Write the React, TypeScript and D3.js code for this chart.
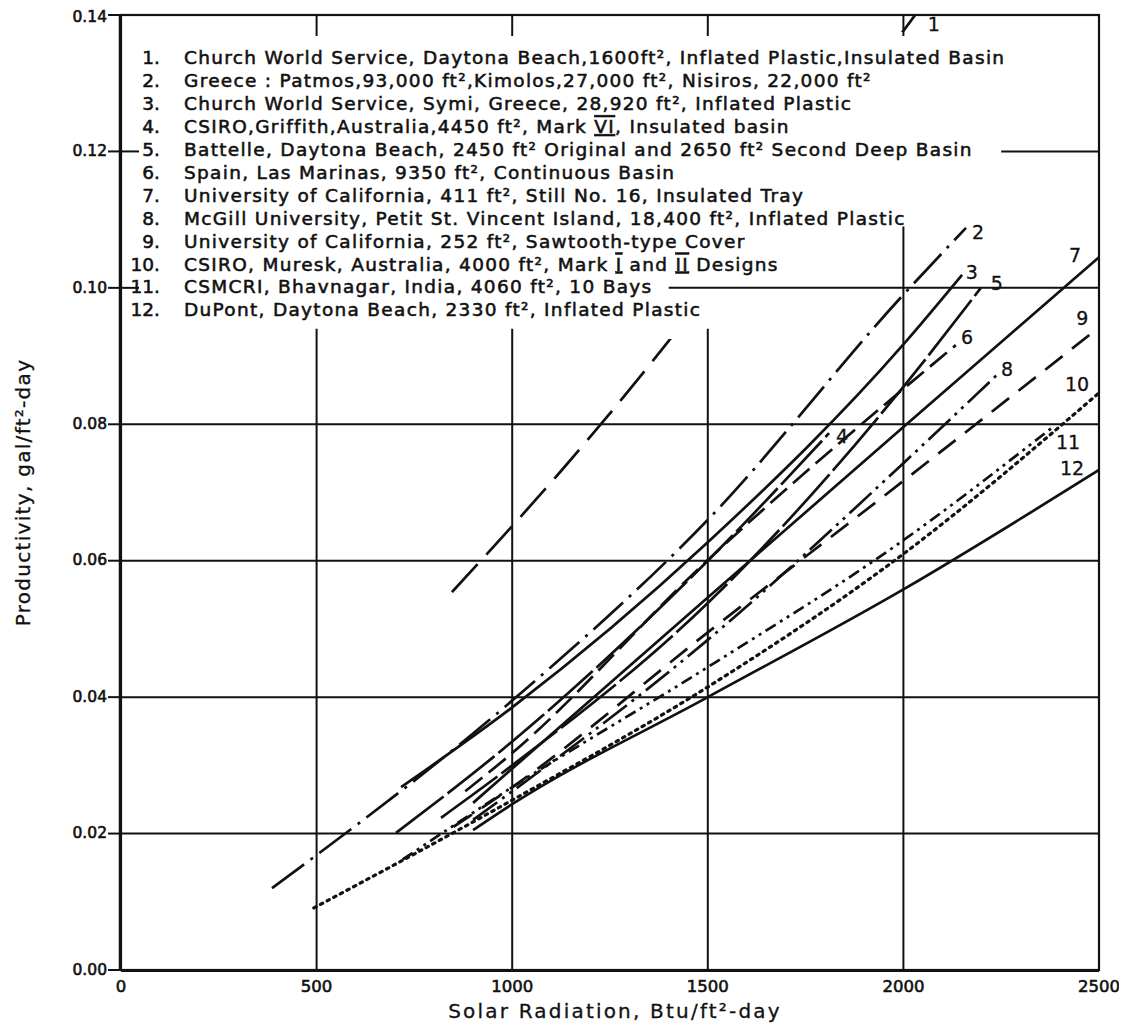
import React, { useEffect, useRef } from "react";
import * as d3 from "d3";

// axis ticks
const xTicks = [0, 500, 1000, 1500, 2000, 2500];
const yTicks = [0, 0.02, 0.04, 0.06, 0.08, 0.1, 0.12, 0.14];

// solar radiation (Btu/ft2-day), productivity (gal/ft2-day)
const line1 = [[846, 0.0554], [1127, 0.0733], [2030, 0.14]];
const line2 = [[386, 0.012], [1000, 0.0395], [1500, 0.066], [2000, 0.099], [2160, 0.1088]];
const line3 = [[716, 0.0268], [1000, 0.0385], [1500, 0.0627], [2000, 0.0917], [2150, 0.1019]];
const line4 = [[703, 0.0201], [1000, 0.0335], [1500, 0.06], [1810, 0.0787]];
const line5 = [[818, 0.0223], [1000, 0.03], [1500, 0.0538], [2000, 0.0855], [2198, 0.1]];
const line6 = [[880, 0.0262], [1000, 0.0318], [1500, 0.0601], [2000, 0.0852], [2134, 0.0916]];
const line7 = [[900, 0.0245], [1500, 0.0546], [2000, 0.0796], [2500, 0.1045]];
const line8 = [[900, 0.022], [1500, 0.0484], [2000, 0.0743], [2244, 0.0875]];
const line9 = [[850, 0.021], [1000, 0.0268], [1500, 0.0495], [2000, 0.0717], [2500, 0.0942]];
const line10 = [[493, 0.0091], [1000, 0.0249], [1500, 0.0415], [2000, 0.061], [2500, 0.0846]];
const line11 = [[720, 0.0162], [1000, 0.0268], [1500, 0.0444], [2000, 0.063], [2380, 0.0795]];
const line12 = [[900, 0.0205], [1000, 0.0243], [1500, 0.04], [2000, 0.0558], [2500, 0.0733]];

const series = [line1, line2, line3, line4, line5, line6, line7, line8, line9, line10, line11, line12];
const seriesNames = ["1", "2", "3", "4", "5", "6", "7", "8", "9", "10", "11", "12"];

const legendItems = [
  "Church World Service, Daytona Beach,1600ft², Inflated Plastic,Insulated Basin",
  "Greece : Patmos,93,000 ft²,Kimolos,27,000 ft², Nisiros, 22,000 ft²",
  "Church World Service, Symi, Greece, 28,920 ft², Inflated Plastic",
  "CSIRO,Griffith,Australia,4450 ft², Mark {VI}, Insulated basin",
  "Battelle, Daytona Beach, 2450 ft² Original and 2650 ft² Second Deep Basin",
  "Spain, Las Marinas, 9350 ft², Continuous Basin",
  "University of California, 411 ft², Still No. 16, Insulated Tray",
  "McGill University, Petit St. Vincent Island, 18,400 ft², Inflated Plastic",
  "University of California, 252 ft², Sawtooth-type Cover",
  "CSIRO, Muresk, Australia, 4000 ft², Mark {I} and {II} Designs",
  "CSMCRI, Bhavnagar, India, 4060 ft², 10 Bays",
  "DuPont, Daytona Beach, 2330 ft², Inflated Plastic",
];

// where the curve numbers sit, in data units
const labelSpots = [
  [2078, 0.1386], [2191, 0.1082], [2175, 0.1023], [1843, 0.0782], [2239, 0.1007], [2163, 0.0928],
  [2439, 0.1048], [2265, 0.088], [2457, 0.0956], [2444, 0.0858], [2421, 0.0774], [2431, 0.0736],
];

const dashes = [
  "38,13", "40,8,3,8", null, "60,5", "70,5", "22,8",
  null, "30,6,3,6,3,6", "22,12", "2.5,5", "12,5,3,5,3,5", null,
];

const dimension = { width: 978, height: 955, margin: { top: 7, right: 20, bottom: 56, left: 113 } };

const FONT = "'DejaVu Sans', sans-serif";

// lettering look: regular face thickened a little with a stroke
function ink(sel, w = 0.5) {
  return sel.attr("font-family", FONT).attr("fill", "#111").attr("stroke", "#111").attr("stroke-width", w);
}

function drawGrid(svg, axis) {
  const { width, height } = dimension;
  const g = svg.append("g").attr("stroke", "#111").attr("stroke-width", 2).attr("fill", "none");

  [0.02, 0.04, 0.06, 0.08].forEach(v => {
    g.append("line").attr("x1", 0).attr("x2", width).attr("y1", axis.y(v)).attr("y2", axis.y(v));
  });
  g.append("line").attr("x1", axis.x(1400)).attr("x2", width).attr("y1", axis.y(0.1)).attr("y2", axis.y(0.1));
  g.append("line").attr("x1", axis.x(2250)).attr("x2", width).attr("y1", axis.y(0.12)).attr("y2", axis.y(0.12));
  [0.1, 0.12].forEach(v => {
    g.append("line").attr("x1", 0).attr("x2", 18).attr("y1", axis.y(v)).attr("y2", axis.y(v));
  });

  [500, 1000, 1500].forEach(v => {
    g.append("line").attr("x1", axis.x(v)).attr("x2", axis.x(v)).attr("y1", height).attr("y2", axis.y(0.094));
  });
  g.append("line").attr("x1", axis.x(2000)).attr("x2", axis.x(2000)).attr("y1", height).attr("y2", axis.y(0.109));
  [500, 1000, 1500, 2000].forEach(v => {
    g.append("line").attr("x1", axis.x(v)).attr("x2", axis.x(v)).attr("y1", 0).attr("y2", 21);
  });

  // frame
  g.append("rect").attr("x", 0).attr("y", 0).attr("width", width).attr("height", height).attr("stroke-width", 2.2);
  g.append("line").attr("x1", -1).attr("x2", -1).attr("y1", 0).attr("y2", height).attr("stroke-width", 2.5);
  g.append("line").attr("x1", 0).attr("x2", width).attr("y1", height + 0.5).attr("y2", height + 0.5).attr("stroke-width", 3);
}

function drawAxes(svg, axis) {
  const { width, height } = dimension;

  const yg = svg.append("g");
  yTicks.forEach(v => {
    yg.append("line").attr("x1", -13).attr("x2", 0).attr("y1", axis.y(v)).attr("y2", axis.y(v))
      .attr("stroke", "#111").attr("stroke-width", 2);
    ink(yg.append("text"), 0.6).attr("x", -14).attr("y", axis.y(v) + (v === 0.14 ? 2 : 0)).attr("dy", "0.3em")
      .attr("text-anchor", "end").attr("font-size", 15.5).text(v.toFixed(2));
  });

  const xg = svg.append("g");
  xTicks.forEach(v => {
    ink(xg.append("text"), 0.6).attr("x", axis.x(v)).attr("y", height + 22)
      .attr("text-anchor", "middle").attr("font-size", 16.5).text(v);
  });

  ink(svg.append("text"), 0.3).attr("x", width / 2 + 5).attr("y", height + 48)
    .attr("text-anchor", "middle").attr("font-size", 20)
    .attr("letter-spacing", 2.2).text("Solar Radiation, Btu/ft²-day");

  ink(svg.append("text"), 0.3).attr("transform", `translate(-91, ${axis.y(0.07)}) rotate(-90)`)
    .attr("text-anchor", "middle").attr("font-size", 20).attr("letter-spacing", 1.3)
    .text("Productivity, gal/ft²-day");
}

function drawSeries(svg, axis) {
  const { width, height } = dimension;
  svg.append("clipPath").attr("id", "plot-clip")
    .append("rect").attr("x", 0).attr("y", 0).attr("width", width).attr("height", height);

  // curve 1 runs behind the legend block: only its foot and its tip at the top edge show
  const gap = svg.append("clipPath").attr("id", "legend-gap");
  gap.append("rect").attr("x", 0).attr("y", axis.y(0.0925)).attr("width", width).attr("height", height - axis.y(0.0925));
  gap.append("rect").attr("x", 0).attr("y", 0).attr("width", width).attr("height", axis.y(0.1375));

  const line = d3.line()
    .x(d => axis.x(d[0]))
    .y(d => axis.y(d[1]))
    .curve(d3.curveMonotoneX);

  const g = svg.append("g").attr("clip-path", "url(#plot-clip)");
  series.forEach((data, i) => {
    g.append("path")
      .attr("d", line(data))
      .attr("fill", "none")
      .attr("stroke", "#111")
      .attr("stroke-width", i === 9 ? 3.2 : 2.7)
      .attr("stroke-linecap", i === 9 ? "round" : "butt")
      .attr("stroke-dasharray", dashes[i])
      .attr("clip-path", i === 0 ? "url(#legend-gap)" : null);
  });

  const lg = svg.append("g");
  seriesNames.forEach((name, i) => {
    ink(lg.append("text"), 0.3)
      .attr("x", axis.x(labelSpots[i][0]))
      .attr("y", axis.y(labelSpots[i][1]))
      .attr("dy", "0.35em")
      .attr("text-anchor", "middle")
      .attr("font-size", 19)
      .text(name);
  });
}

function drawLegend(svg) {
  const g = ink(svg.append("g"), 0.55).attr("font-size", 18.5);
  legendItems.forEach((item, i) => {
    const y = 50 + i * 22.9;
    g.append("text").attr("x", 152).attr("y", y).attr("dy", "0.35em")
      .attr("text-anchor", "end").text(`${i + 1}.`);
    const t = g.append("text").attr("x", 176).attr("y", y).attr("dy", "0.35em")
      .attr("letter-spacing", 1.3);
    item.split(/(\{[^}]+\})/).filter(s => s.length).forEach(part => {
      if (part.startsWith("{")) {
        t.append("tspan").style("text-decoration", "underline overline").text(part.slice(1, -1));
      } else {
        t.append("tspan").text(part);
      }
    });
  });
}

function draw(node) {
  const { width, height, margin } = dimension;
  d3.select(node).selectAll("*").remove();
  const root = d3.select(node)
    .attr("width", width + margin.left + margin.right)
    .attr("height", height + margin.top + margin.bottom);
  root.append("rect").attr("width", "100%").attr("height", "100%").attr("fill", "#fff");
  const svg = root.append("g").attr("transform", `translate(${margin.left}, ${margin.top})`);

  const axis = {
    x: d3.scaleLinear().domain([0, 2500]).range([0, width]),
    y: d3.scaleLinear().domain([0, 0.14]).range([height, 0]),
  };

  drawGrid(svg, axis);
  drawSeries(svg, axis);
  drawAxes(svg, axis);
  // legend sits in svg coordinates, top left of the plot
  drawLegend(root);
}

export default function App() {
  const ref = useRef(null);
  useEffect(() => {
    draw(ref.current);
  }, []);
  return <svg ref={ref} style={{ display: "block" }} />;
}
